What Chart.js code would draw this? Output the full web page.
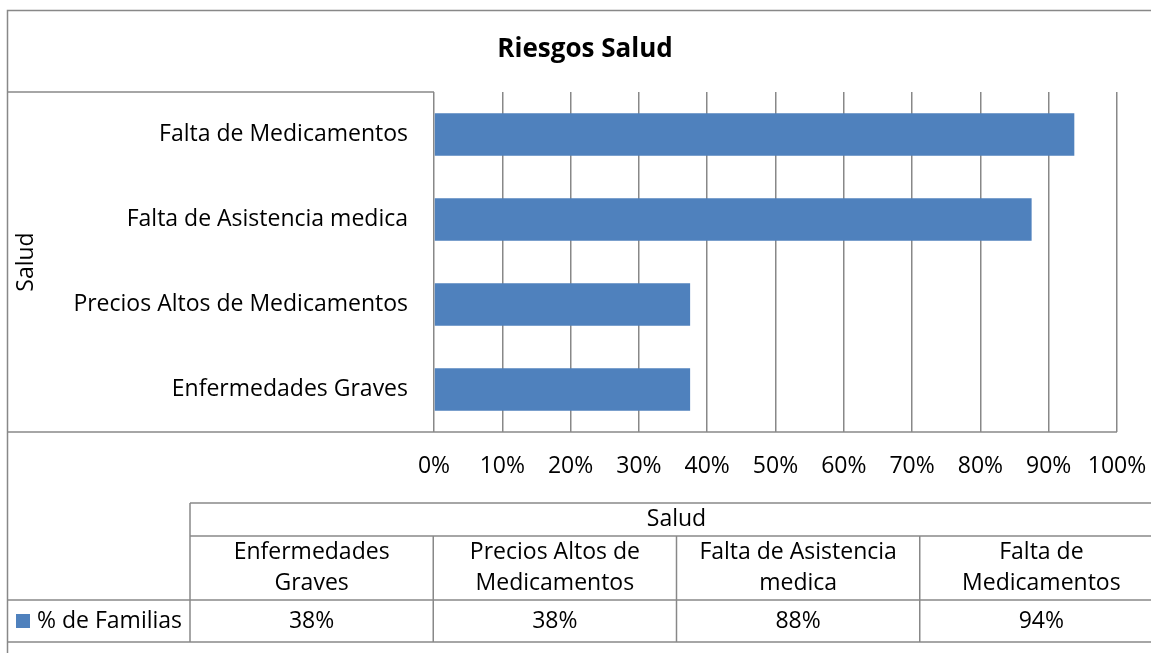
<!DOCTYPE html>
<html>
<head>
<meta charset="utf-8">
<script src="https://cdn.jsdelivr.net/npm/chart.js@4/dist/chart.umd.min.js"></script>
<style>
html,body{margin:0;padding:0;background:#fff;overflow:hidden;}
canvas{display:block;}
</style>
</head>
<body>
<canvas id="c" width="1151" height="653"></canvas>
<script>
// ---- data ----
const categories = ["Enfermedades Graves", "Precios Altos de Medicamentos", "Falta de Asistencia medica", "Falta de Medicamentos"];
const seriesName = "% de Familias";
const values = [37.5, 37.5, 87.5, 93.75];
const groupLabel = "Salud";
const chartTitle = "Riesgos Salud";
const xTicks = [0, 10, 20, 30, 40, 50, 60, 70, 80, 90, 100];

const FONT = "'Open Sans', 'Noto Sans', sans-serif";
const FS = 23;
const LINE = '#888888';
const BAR = '#4F81BD';

function wrap(ctx, text, maxW) {
  const words = text.split(' ');
  const lines = [];
  let cur = '';
  for (const w of words) {
    const t = cur ? cur + ' ' + w : w;
    if (ctx.measureText(t).width > maxW && cur) { lines.push(cur); cur = w; }
    else cur = t;
  }
  if (cur) lines.push(cur);
  return lines;
}

const decor = {
  id: 'decor',
  afterDraw(chart) {
    const ctx = chart.ctx;
    const ca = chart.chartArea;
    ctx.save();
    ctx.strokeStyle = LINE;
    ctx.lineWidth = 1.5;
    const line = (x1, y1, x2, y2) => { ctx.beginPath(); ctx.moveTo(x1, y1); ctx.lineTo(x2, y2); ctx.stroke(); };
    // outer border
    ctx.strokeRect(7.5, 10.5, 1300, 800);
    // category group lines
    line(7, ca.top, ca.left, ca.top);
    line(7, ca.bottom, ca.right, ca.bottom);
    // title
    ctx.fillStyle = '#000';
    ctx.font = 'bold 26px ' + FONT;
    ctx.textAlign = 'center';
    ctx.textBaseline = 'middle';
    ctx.fillText(chartTitle, 585, 50);

    // data table
    const tTop = 503, tHead = 536, tRow = 600, tBot = 642;
    const colL = 190, colW = 243.25;
    line(colL, tTop, 1151, tTop);
    line(colL, tHead, 1151, tHead);
    line(7, tRow, 1151, tRow);
    line(7, tBot, 1151, tBot);
    line(colL, tTop, colL, tBot);
    for (let i = 1; i < categories.length; i++) {
      const x = colL + i * colW;
      line(x, tHead, x, tBot);
    }
    ctx.font = FS + 'px ' + FONT;
    ctx.fillStyle = '#000';
    ctx.textAlign = 'center';
    ctx.fillText(groupLabel, colL + colW * categories.length / 2, 519);
    categories.forEach((c, i) => {
      const cx = colL + colW * (i + 0.5);
      const lines = wrap(ctx, c, 222);
      const lh = 31;
      const y0 = 568 - (lines.length - 1) * lh / 2;
      lines.forEach((l, k) => ctx.fillText(l, cx, y0 + k * lh));
      ctx.fillText(Math.round(values[i]) + '%', cx, 621);
    });
    // legend key
    ctx.fillStyle = BAR;
    ctx.fillRect(16, 614, 14, 14);
    ctx.fillStyle = '#000';
    ctx.textAlign = 'left';
    ctx.fillText(seriesName, 37, 621);
    ctx.restore();
  }
};

new Chart(document.getElementById('c'), {
  type: 'bar',
  data: {
    labels: categories,
    datasets: [{
      label: seriesName,
      data: values,
      backgroundColor: BAR,
      borderWidth: 0,
      categoryPercentage: 1,
      barPercentage: 0.5
    }]
  },
  options: {
    indexAxis: 'y',
    responsive: false,
    animation: false,
    layout: { padding: { top: 92, right: 34, bottom: 0, left: 0 } },
    plugins: { legend: { display: false }, title: { display: false }, tooltip: { enabled: false } },
    scales: {
      y: {
        reverse: true,
        afterFit(s) { s.width = 434; s.paddingTop = 0; s.paddingBottom = 0; },
        grid: { display: false, drawTicks: false },
        border: { display: false },
        ticks: { color: '#000', font: { family: FONT, size: FS }, padding: 26 },
        title: { display: true, text: groupLabel, color: '#000', font: { family: FONT, size: FS }, padding: { top: 13, bottom: 0 } }
      },
      x: {
        min: 0, max: 100,
        afterFit(s) { s.height = 221; s.paddingLeft = 0; s.paddingRight = 0; },
        afterBuildTicks(s) { s.ticks = xTicks.map(v => ({ value: v })); },
        grid: { color: LINE, lineWidth: 1.5, drawTicks: false },
        border: { display: false },
        ticks: { color: '#000', font: { family: FONT, size: FS }, padding: 21, maxRotation: 0, autoSkip: false, callback: v => v + '%' }
      }
    }
  },
  plugins: [decor]
});
</script>
</body>
</html>
